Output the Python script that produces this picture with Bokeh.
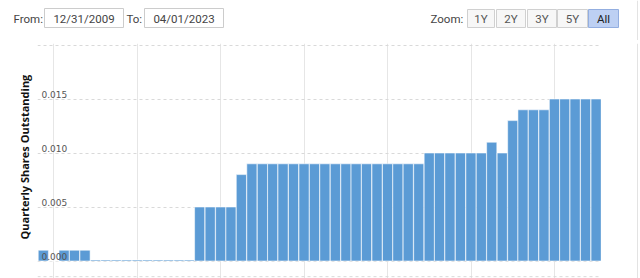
import pandas as pd
from math import pi
from bokeh.plotting import figure
from bokeh.models import Range1d, FixedTicker, Span
from bokeh.layouts import column, row
from bokeh.core.properties import value
from bokeh.embed import file_html
from bokeh.resources import INLINE

# ---------------- data ----------------
quarters = [
    "2009-09-30", "2009-12-31",
    "2010-03-31", "2010-06-30", "2010-09-30", "2010-12-31",
    "2011-03-31", "2011-06-30", "2011-09-30", "2011-12-31",
    "2012-03-31", "2012-06-30", "2012-09-30", "2012-12-31",
    "2013-03-31", "2013-06-30", "2013-09-30", "2013-12-31",
    "2014-03-31", "2014-06-30", "2014-09-30", "2014-12-31",
    "2015-03-31", "2015-06-30", "2015-09-30", "2015-12-31",
    "2016-03-31", "2016-06-30", "2016-09-30", "2016-12-31",
    "2017-03-31", "2017-06-30", "2017-09-30", "2017-12-31",
    "2018-03-31", "2018-06-30", "2018-09-30", "2018-12-31",
    "2019-03-31", "2019-06-30", "2019-09-30", "2019-12-31",
    "2020-03-31", "2020-06-30", "2020-09-30", "2020-12-31",
    "2021-03-31", "2021-06-30", "2021-09-30", "2021-12-31",
    "2022-03-31", "2022-06-30", "2022-09-30", "2022-12-31",
]
shares = [
    0.001, 0.0, 0.001, 0.001, 0.001,
    0.0001, 0.0001, 0.0001, 0.0001, 0.0001,
    0.0001, 0.0001, 0.0001, 0.0001, 0.0001,
    0.005, 0.005, 0.005, 0.005, 0.008,
    0.009, 0.009, 0.009, 0.009, 0.009, 0.009, 0.009, 0.009, 0.009,
    0.009, 0.009, 0.009, 0.009, 0.009, 0.009, 0.009, 0.009,
    0.010, 0.010, 0.010, 0.010, 0.010, 0.010,
    0.011, 0.010, 0.013,
    0.014, 0.014, 0.014,
    0.015, 0.015, 0.015, 0.015, 0.015,
]
y_ticks = [0.0, 0.005, 0.010, 0.015]
y_tick_labels = ["0.000", "0.005", "0.010", "0.015"]
y_grid = [0.0, 0.005, 0.010, 0.015, 0.020]
x_grid_dates = ["2010-01-01", "2012-01-01", "2014-01-01", "2016-01-01",
                "2018-01-01", "2020-01-01", "2022-01-01"]
y_title = "Quarterly Shares Outstanding"
from_date = "12/31/2009"
to_date = "04/01/2023"
zoom_buttons = ["1Y", "2Y", "3Y", "5Y", "All"]

BAR = "#5b9bd5"
FONT_UI = value("Roboto")

def ms(d):
    return pd.Timestamp(d).value / 1e6

def clean(fig):
    fig.xaxis.visible = False
    fig.yaxis.visible = False
    fig.xgrid.visible = False
    fig.ygrid.visible = False
    fig.outline_line_color = None
    fig.min_border = 0
    fig.background_fill_color = "white"
    fig.border_fill_color = "white"

# ---------------- header ----------------
H = 40
hdr = figure(width=640, height=H, x_range=Range1d(0, 640), y_range=Range1d(0, H),
             toolbar_location=None, output_backend="svg")
clean(hdr)
hdr.min_border_left = 0
hdr.min_border_right = 0
hdr.min_border_top = 0
hdr.min_border_bottom = 0

def cy(v):
    return H - v

hdr.text(x=[13], y=[cy(18)], text=["From:"], text_font=FONT_UI, text_font_size="11.5px",
         text_color="#444444", text_baseline="middle", text_align="left")
hdr.quad(left=[44, 144], right=[123, 223], top=[cy(8), cy(8)], bottom=[cy(27), cy(27)],
         fill_color="white", line_color="#cccccc", line_width=1)
hdr.text(x=[83.5, 183.5], y=[cy(18), cy(18)], text=[from_date, to_date], text_font=FONT_UI,
         text_font_size="11.5px", text_color="#444444", text_baseline="middle", text_align="center")
hdr.text(x=[126], y=[cy(18)], text=["To:"], text_font=FONT_UI, text_font_size="11.5px",
         text_color="#444444", text_baseline="middle", text_align="left")
hdr.text(x=[430], y=[cy(18)], text=["Zoom:"], text_font=FONT_UI, text_font_size="11.5px",
         text_color="#444444", text_baseline="middle", text_align="left")
bl = [467, 496, 527, 557, 588]
br = [494, 525, 556, 587, 618]
fills = ["#f7f7f7", "#f7f7f7", "#f7f7f7", "#f7f7f7", "#bdd0f3"]
lines = ["#d0d0d0", "#d0d0d0", "#d0d0d0", "#d0d0d0", "#93aee0"]
hdr.quad(left=bl, right=br, top=[cy(9)] * 5, bottom=[cy(27)] * 5,
         fill_color=fills, line_color=lines, line_width=1)
hdr.text(x=[(a + b) / 2 for a, b in zip(bl, br)], y=[cy(18)] * 5, text=zoom_buttons,
         text_font=FONT_UI, text_font_size="11.5px",
         text_color=["#555555"] * 4 + ["#222222"], text_baseline="middle", text_align="center")
hdr.segment(x0=[637], x1=[637], y0=[0], y1=[H], line_color="#e3e3e3", line_width=1)

# ---------------- left (axis title) ----------------
MH = 238
left = figure(width=37, height=MH, x_range=Range1d(0, 37), y_range=Range1d(0, MH),
              toolbar_location=None, output_backend="svg")
clean(left)
left.text(x=[24], y=[MH - 115], text=[y_title], angle=pi / 2, text_align="center",
          text_baseline="middle", text_font=value("Open Sans"), text_font_style="bold",
          text_font_size="11px", text_color="#111111")

# ---------------- main chart ----------------
x0 = pd.Timestamp("2009-08-10")
x1 = pd.Timestamp("2023-02-16")
p = figure(width=564, height=MH, x_axis_type="datetime",
           x_range=Range1d(x0, x1), y_range=Range1d(-0.00162, 0.02014),
           toolbar_location=None, output_backend="svg")
p.xaxis.visible = False
p.yaxis.visible = False
p.outline_line_color = None
p.min_border_left = 0
p.min_border_right = 0
p.min_border_top = 3
p.min_border_bottom = 0
p.background_fill_color = "white"
p.border_fill_color = "white"

p.xgrid.ticker = FixedTicker(ticks=[ms(d) for d in x_grid_dates])
p.xgrid.grid_line_color = "#e6e6e6"
p.ygrid.ticker = FixedTicker(ticks=y_grid)
p.ygrid.grid_line_color = "#d9d9d9"
p.ygrid.grid_line_dash = "3 3"

p.add_layout(Span(location=-0.00145, dimension="width", line_color="#d9d9d9",
                  line_dash="3 3", line_width=1))

dates = pd.to_datetime(quarters)
p.vbar(x=dates, top=shares, bottom=0, width=89 * 24 * 3600 * 1000,
       fill_color=BAR, line_color="white", line_alpha=0.55, line_width=1)

p.text(x=[x0] * len(y_ticks), y=y_ticks, text=y_tick_labels, x_offset=4, y_offset=-5,
       text_baseline="alphabetic", text_align="left", text_font=value("DejaVu Sans"),
       text_font_size="9px", text_color="#555555")

# ---------------- right (border) ----------------
right = figure(width=39, height=MH, x_range=Range1d(0, 39), y_range=Range1d(0, MH),
               toolbar_location=None, output_backend="svg")
clean(right)
right.segment(x0=[36], x1=[36], y0=[0], y1=[MH], line_color="#e3e3e3", line_width=1)

layout = column(hdr, row(left, p, right, spacing=0), spacing=0)
open("out.html", "w").write(file_html(layout, INLINE))
